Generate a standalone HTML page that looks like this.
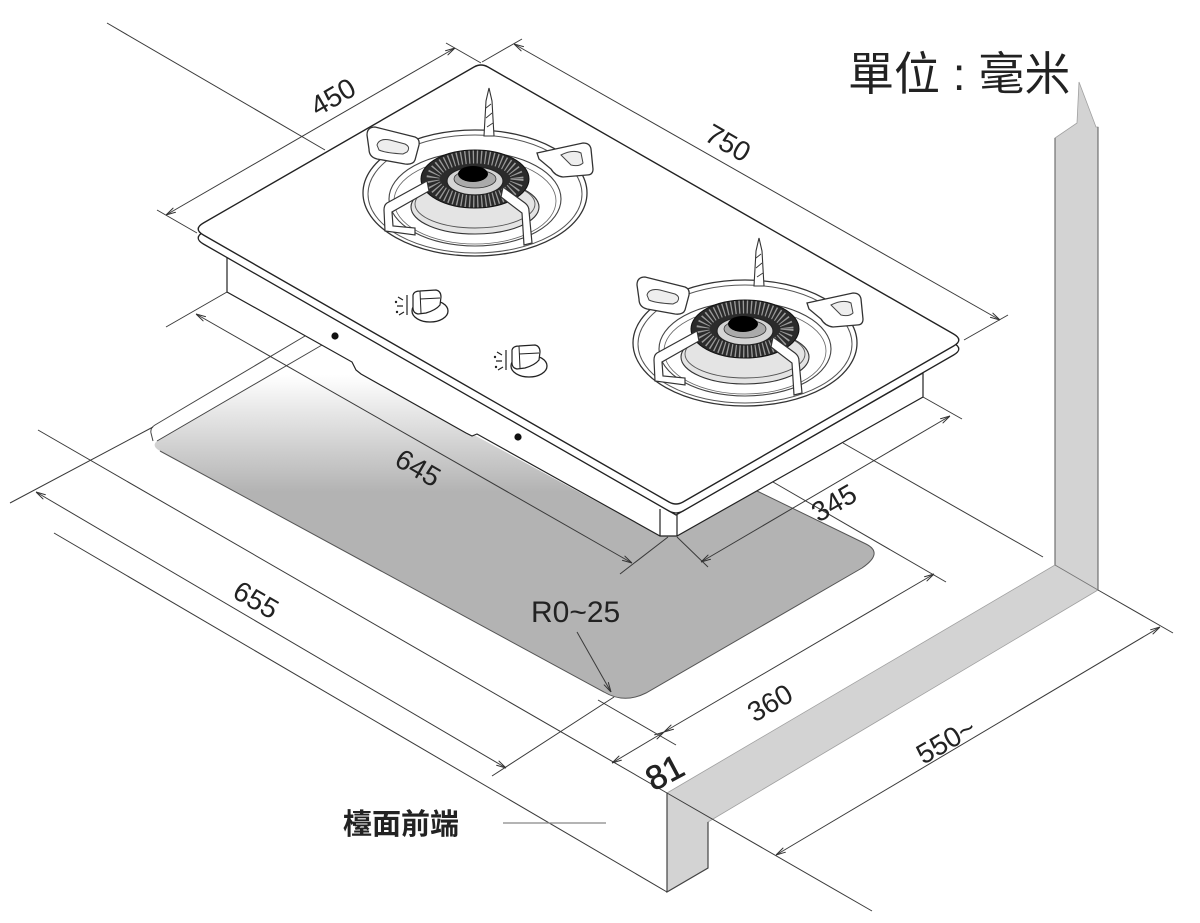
<!DOCTYPE html>
<html><head><meta charset="utf-8"><style>
html,body{margin:0;padding:0;background:#fff;}
svg{display:block;}
text{font-family:"Liberation Sans",Arial,sans-serif;fill:#222;}
.cjk{font-family:"Liberation Sans","Noto Sans CJK TC","Noto Sans CJK SC",sans-serif;}
</style></head><body>
<svg width="1200" height="923" viewBox="0 0 1200 923" xmlns="http://www.w3.org/2000/svg">
<defs>
 <linearGradient id="gg" x1="0" y1="375" x2="0" y2="492" gradientUnits="userSpaceOnUse">
  <stop offset="0" stop-color="#ffffff"/><stop offset="1" stop-color="#b3b3b3"/>
 </linearGradient>
 <marker id="ar" viewBox="0 0 10 6" refX="10" refY="3" markerWidth="10" markerHeight="6" markerUnits="userSpaceOnUse" orient="auto-start-reverse">
  <path d="M0,0.5 L10,3 L0,5.5" fill="none" stroke="#333" stroke-width="1"/>
 </marker>
 <g id="burner">
  <ellipse cx="0" cy="0" rx="112" ry="63" fill="#fff" stroke="#333" stroke-width="1.3"/>
  <ellipse cx="0" cy="1" rx="107" ry="59" fill="none" stroke="#555" stroke-width="1"/>
  <ellipse cx="0" cy="6" rx="86" ry="47" fill="none" stroke="#444" stroke-width="1.1"/>
  <ellipse cx="0" cy="8" rx="81" ry="43" fill="none" stroke="#666" stroke-width="0.8"/>
  <ellipse cx="0" cy="14" rx="64" ry="27" fill="#e4e4e4" stroke="#333" stroke-width="1.1"/>
  <ellipse cx="0" cy="11" rx="60" ry="24" fill="none" stroke="#555" stroke-width="0.9"/>
  <ellipse cx="0" cy="-14" rx="54" ry="29" fill="#2b2b2b" stroke="#111" stroke-width="1"/>
  <ellipse cx="0" cy="-14" rx="42" ry="22" fill="none" stroke="#9a9a9a" stroke-width="13" stroke-dasharray="1.3 2.7"/>
  <ellipse cx="0" cy="-12" rx="28" ry="14" fill="#d5d5d5" stroke="#222" stroke-width="1.2"/>
  <ellipse cx="0" cy="-14" rx="21" ry="9" fill="#aaa" stroke="#333" stroke-width="0.8"/>
  <ellipse cx="-2" cy="-19" rx="15" ry="8" fill="#000"/>
  <!-- lower-left arm -->
  <path d="M-48,-12 L-88,10 Q-91,12 -91,17 L-90,38 L-60,42 L-60,35 L-82,33 L-83,19 L-46,-2 Z" fill="#fff" stroke="#333" stroke-width="1.2"/>
  <!-- lower-right arm -->
  <path d="M28,-6 L50,10 Q54,13 54,18 L57,50 L49,52 L47,20 L26,4 Z" fill="#fff" stroke="#333" stroke-width="1.2"/>
  <!-- upper-left support -->
  <path d="M-108,-58 Q-108,-66 -100,-66 L-60,-56 Q-55,-54 -56,-48 L-60,-33 Q-62,-28 -70,-29 L-98,-34 Q-106,-36 -106,-44 Z" fill="#fff" stroke="#333" stroke-width="1.3"/>
  <path d="M-98,-48 Q-96,-55 -85,-53 L-70,-49 Q-64,-46 -68,-41 L-72,-39 Q-90,-40 -96,-43 Z" fill="#eee" stroke="#444" stroke-width="1"/>
  <!-- upper-right support -->
  <path d="M62,-40 L108,-50 Q115,-50 116,-44 L118,-24 Q118,-18 112,-18 L88,-16 Q80,-17 76,-24 L64,-34 Z" fill="#fff" stroke="#333" stroke-width="1.3"/>
  <path d="M86,-38 Q98,-44 106,-40 L108,-30 Q104,-26 96,-28 Z" fill="#eee" stroke="#444" stroke-width="1"/>
  <!-- igniter -->
  <path d="M9,-57 L11,-92 L14,-105 L17,-92 L19,-57 Z" fill="#fff" stroke="#333" stroke-width="1.1"/>
  <path d="M11,-75 L17,-80 M11,-85 L16,-89 M12,-66 L18,-70" stroke="#333" stroke-width="0.9" fill="none"/>
 </g>
 <g id="knob">
  <ellipse cx="0" cy="0" rx="18" ry="11" fill="#fff" stroke="#222" stroke-width="1.3"/>
  <path d="M-17,-16 Q-16,-20 -10,-20 L6,-21 Q11,-20 11,-14 L10,-6 Q6,-1 -4,2 L-12,3 Q-17,2 -17,-3 Z" fill="#fff" stroke="#222" stroke-width="1.2"/>
  <path d="M-10,-20 L-9,2 M-10,-12 L10,-13" stroke="#222" stroke-width="1" fill="none"/>
  <path d="M-32,-14 l5,3 M-33,-5 l6,0 M-31,4 l5,-3 M-23,-16 l0,20" stroke="#222" stroke-width="1.2" fill="none"/>
  <circle cx="-34" cy="-9" r="1.2" fill="#222"/><circle cx="-33" cy="1" r="1.2" fill="#222"/>
 </g>
</defs>

<!-- wall / countertop section -->
<path d="M667,793 L1055,565 L1055,138 L1077,123 L1079,82 L1096,127 L1098,127 L1098,590 L708,822 L708,868 L667,892 Z" fill="#d3d3d3" stroke="#a0a0a0" stroke-width="0.8"/>
<path d="M1055,565 L1055,138 M1098,127 L1098,590" stroke="#666" stroke-width="1.1" fill="none"/>
<path d="M1055,565 L1098,590" stroke="#777" stroke-width="0.9" fill="none"/>
<path d="M667,793 L667,892 L708,868 L708,822" stroke="#444" stroke-width="1.2" fill="none"/>

<!-- cutout (gray) -->
<path d="M322,345 L157,441 Q151,446 160,451 L604,692 Q624,704 646,693 L862,568 Q884,553 866,544 L757,491 L677,536 L660,536 L476,436 L470,434 L360,374 L355,368 L352,362 Z" fill="url(#gg)" stroke="none"/>
<path d="M160,451 L604,692 Q624,704 646,693 L862,568 Q884,553 866,544 L757,491" fill="none" stroke="#555" stroke-width="1"/>
<path d="M305,336 L155,425 Q150,428 151,433 L153,441 M322,345 L157,441" fill="none" stroke="#444" stroke-width="1"/>

<!-- dimension & extension lines -->
<g stroke="#3a3a3a" stroke-width="1" fill="none">
 <path d="M107,23 L325,150"/>
 <path d="M197,233 L157,210 M481,63 L446,43"/>
 <path d="M166,215 L455,48" marker-start="url(#ar)" marker-end="url(#ar)"/>
 <path d="M482,62 L522,39 M964,340 L1008,315"/>
 <path d="M514,44 L1000,320" marker-start="url(#ar)" marker-end="url(#ar)"/>
 <path d="M227,292 L166,327 M668,537 L620,574"/>
 <path d="M196,314 L632,563" marker-start="url(#ar)" marker-end="url(#ar)"/>
 <path d="M677,537 L708,567 M923,397 L962,419"/>
 <path d="M701,562 L950,416" marker-start="url(#ar)" marker-end="url(#ar)"/>
 <path d="M153,427 L10,503 M614,697 L492,776"/>
 <path d="M36,492 L506,768" marker-start="url(#ar)" marker-end="url(#ar)"/>
 <path d="M38,430 L667,793"/>
 <path d="M54,533 L667,892"/>
 <path d="M612,763 L664,732" marker-start="url(#ar)" marker-end="url(#ar)"/>
 <path d="M664,732 L934,574" marker-start="url(#ar)" marker-end="url(#ar)"/>
 <path d="M598,700 L676,745"/>
 <path d="M773,482 L946,582"/>
 <path d="M843,443 L1043,557"/>
 <path d="M667,793 L872,911 M1098,590 L1173,633"/>
 <path d="M776,855 L1160,627" marker-start="url(#ar)" marker-end="url(#ar)"/>
 <path d="M577,632 L611,692" marker-end="url(#ar)"/>
</g>
<path d="M503,823 L606,823" stroke="#888" stroke-width="1.2"/>

<!-- hob body -->
<path d="M227,257 L227,292 L352,362 L356,370 L361,374 L466,433 L472,436 L477,434 L660,536 L677,536 L923,397 L923,373 L676,515 Z" fill="#fff" stroke="#222" stroke-width="1.2"/>
<path d="M660,509 L660,536 M677,515 L677,536" stroke="#222" stroke-width="1.2"/>
<circle cx="335" cy="336" r="3.6" fill="#111"/>
<circle cx="518" cy="437" r="3.6" fill="#111"/>

<!-- plate -->
<g transform="translate(0,9)">
<path d="M203.4,223 L474,67 Q481,63 488,67 L953.6,334 Q964,340 953.6,346 L683,502 Q676,506 669,502 L203.4,235 Q193,229 203.4,223 Z" fill="#fff" stroke="#222" stroke-width="1.3"/>
</g>
<path d="M203.4,223 L474,67 Q481,63 488,67 L953.6,334 Q964,340 953.6,346 L683,502 Q676,506 669,502 L203.4,235 Q193,229 203.4,223 Z" fill="#fff" stroke="#222" stroke-width="1.4"/>

<!-- burners -->
<use href="#burner" x="475" y="193"/>
<use href="#burner" x="745" y="343"/>

<!-- knobs -->
<use href="#knob" x="430" y="311"/>
<use href="#knob" x="529" y="366"/>

<!-- labels -->
<text class="cjk" x="848" y="90" font-size="46">單位 : 毫米</text>
<text class="cjk" x="343" y="834" font-size="29" font-weight="700" fill="#333">檯面前端</text>

<g font-size="28" text-anchor="middle" dominant-baseline="central">
 <text x="333" y="97" transform="rotate(-30 333 97)">450</text>
 <text x="728" y="143" transform="rotate(30 728 143)">750</text>
 <text x="418" y="468" transform="rotate(30 418 468)">645</text>
 <text x="256" y="600" transform="rotate(30 256 600)">655</text>
 <text x="834" y="503" transform="rotate(-30 834 503)">345</text>
 <text x="770" y="703" transform="rotate(-30 770 703)">360</text>
 <text x="946" y="741" transform="rotate(-30 946 741)">550~</text>
 <text x="665" y="773" font-size="34" stroke="#222" stroke-width="0.6" transform="rotate(-28 665 773)">81</text>
</g>
<text x="531" y="622" font-size="30">R0~25</text>
</svg>
</body></html>
